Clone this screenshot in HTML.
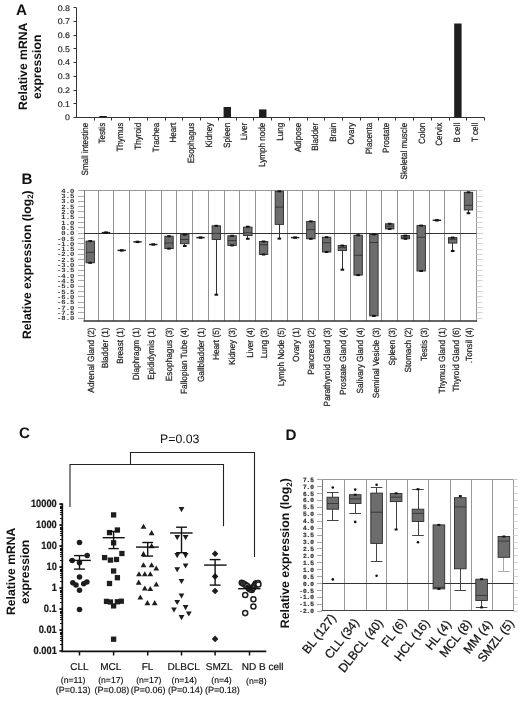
<!DOCTYPE html>
<html><head><meta charset="utf-8"><style>
html,body{margin:0;padding:0;background:#fff;}
svg{display:block;filter:grayscale(1);}
text{font-family:"Liberation Sans", sans-serif;text-rendering:geometricPrecision;}
</style></head><body>
<svg width="520" height="701" viewBox="0 0 520 701">
<rect width="520" height="701" fill="#fff"/>
<text transform="translate(16.00,14.70)" font-size="15.2" text-anchor="start" font-weight="bold" fill="#111">A</text>
<text transform="translate(26.90,66.40) rotate(-90)" font-size="12.2" text-anchor="middle" font-weight="bold" fill="#111">Relative mRNA</text>
<text transform="translate(41.10,66.80) rotate(-90)" font-size="12.2" text-anchor="middle" font-weight="bold" fill="#111">expression</text>
<line x1="76.50" y1="7.80" x2="76.50" y2="118.00" stroke="#333" stroke-width="1"/>
<line x1="73.50" y1="117.50" x2="76.50" y2="117.50" stroke="#333" stroke-width="1"/>
<text transform="translate(70.00,120.30) scale(1.08,1)" font-size="8.2" text-anchor="end" fill="#222" stroke="#222" stroke-width="0.15">0</text>
<line x1="73.50" y1="103.50" x2="76.50" y2="103.50" stroke="#333" stroke-width="1"/>
<text transform="translate(70.00,106.59) scale(1.08,1)" font-size="8.2" text-anchor="end" fill="#222" stroke="#222" stroke-width="0.15">0.1</text>
<line x1="73.50" y1="90.50" x2="76.50" y2="90.50" stroke="#333" stroke-width="1"/>
<text transform="translate(70.00,92.88) scale(1.08,1)" font-size="8.2" text-anchor="end" fill="#222" stroke="#222" stroke-width="0.15">0.2</text>
<line x1="73.50" y1="76.50" x2="76.50" y2="76.50" stroke="#333" stroke-width="1"/>
<text transform="translate(70.00,79.16) scale(1.08,1)" font-size="8.2" text-anchor="end" fill="#222" stroke="#222" stroke-width="0.15">0.3</text>
<line x1="73.50" y1="62.50" x2="76.50" y2="62.50" stroke="#333" stroke-width="1"/>
<text transform="translate(70.00,65.45) scale(1.08,1)" font-size="8.2" text-anchor="end" fill="#222" stroke="#222" stroke-width="0.15">0.4</text>
<line x1="73.50" y1="48.50" x2="76.50" y2="48.50" stroke="#333" stroke-width="1"/>
<text transform="translate(70.00,51.74) scale(1.08,1)" font-size="8.2" text-anchor="end" fill="#222" stroke="#222" stroke-width="0.15">0.5</text>
<line x1="73.50" y1="35.50" x2="76.50" y2="35.50" stroke="#333" stroke-width="1"/>
<text transform="translate(70.00,38.03) scale(1.08,1)" font-size="8.2" text-anchor="end" fill="#222" stroke="#222" stroke-width="0.15">0.6</text>
<line x1="73.50" y1="21.50" x2="76.50" y2="21.50" stroke="#333" stroke-width="1"/>
<text transform="translate(70.00,24.31) scale(1.08,1)" font-size="8.2" text-anchor="end" fill="#222" stroke="#222" stroke-width="0.15">0.7</text>
<line x1="73.50" y1="7.50" x2="76.50" y2="7.50" stroke="#333" stroke-width="1"/>
<text transform="translate(70.00,10.60) scale(1.08,1)" font-size="8.2" text-anchor="end" fill="#222" stroke="#222" stroke-width="0.15">0.8</text>
<line x1="76.50" y1="117.50" x2="484.50" y2="117.50" stroke="#333" stroke-width="1"/>
<line x1="94.50" y1="117.50" x2="94.50" y2="120.50" stroke="#333" stroke-width="1"/>
<line x1="111.50" y1="117.50" x2="111.50" y2="120.50" stroke="#333" stroke-width="1"/>
<line x1="129.50" y1="117.50" x2="129.50" y2="120.50" stroke="#333" stroke-width="1"/>
<line x1="147.50" y1="117.50" x2="147.50" y2="120.50" stroke="#333" stroke-width="1"/>
<line x1="165.50" y1="117.50" x2="165.50" y2="120.50" stroke="#333" stroke-width="1"/>
<line x1="182.50" y1="117.50" x2="182.50" y2="120.50" stroke="#333" stroke-width="1"/>
<line x1="200.50" y1="117.50" x2="200.50" y2="120.50" stroke="#333" stroke-width="1"/>
<line x1="218.50" y1="117.50" x2="218.50" y2="120.50" stroke="#333" stroke-width="1"/>
<line x1="236.50" y1="117.50" x2="236.50" y2="120.50" stroke="#333" stroke-width="1"/>
<line x1="253.50" y1="117.50" x2="253.50" y2="120.50" stroke="#333" stroke-width="1"/>
<line x1="271.50" y1="117.50" x2="271.50" y2="120.50" stroke="#333" stroke-width="1"/>
<line x1="289.50" y1="117.50" x2="289.50" y2="120.50" stroke="#333" stroke-width="1"/>
<line x1="307.50" y1="117.50" x2="307.50" y2="120.50" stroke="#333" stroke-width="1"/>
<line x1="324.50" y1="117.50" x2="324.50" y2="120.50" stroke="#333" stroke-width="1"/>
<line x1="342.50" y1="117.50" x2="342.50" y2="120.50" stroke="#333" stroke-width="1"/>
<line x1="360.50" y1="117.50" x2="360.50" y2="120.50" stroke="#333" stroke-width="1"/>
<line x1="378.50" y1="117.50" x2="378.50" y2="120.50" stroke="#333" stroke-width="1"/>
<line x1="395.50" y1="117.50" x2="395.50" y2="120.50" stroke="#333" stroke-width="1"/>
<line x1="413.50" y1="117.50" x2="413.50" y2="120.50" stroke="#333" stroke-width="1"/>
<line x1="431.50" y1="117.50" x2="431.50" y2="120.50" stroke="#333" stroke-width="1"/>
<line x1="449.50" y1="117.50" x2="449.50" y2="120.50" stroke="#333" stroke-width="1"/>
<line x1="466.50" y1="117.50" x2="466.50" y2="120.50" stroke="#333" stroke-width="1"/>
<line x1="484.50" y1="117.50" x2="484.50" y2="120.50" stroke="#333" stroke-width="1"/>
<text transform="translate(87.67,122.80) rotate(-90) scale(1,1.12)" font-size="8.1" text-anchor="end" fill="#222" stroke="#222" stroke-width="0.2">Small intestine</text>
<text transform="translate(105.41,122.80) rotate(-90) scale(1,1.12)" font-size="8.1" text-anchor="end" fill="#222" stroke="#222" stroke-width="0.2">Testis</text>
<rect x="99.41" y="116.00" width="7.40" height="1.50" fill="#1e1e1e"/>
<text transform="translate(123.15,122.80) rotate(-90) scale(1,1.12)" font-size="8.1" text-anchor="end" fill="#222" stroke="#222" stroke-width="0.2">Thymus</text>
<text transform="translate(140.89,122.80) rotate(-90) scale(1,1.12)" font-size="8.1" text-anchor="end" fill="#222" stroke="#222" stroke-width="0.2">Thyroid</text>
<text transform="translate(158.63,122.80) rotate(-90) scale(1,1.12)" font-size="8.1" text-anchor="end" fill="#222" stroke="#222" stroke-width="0.2">Trachea</text>
<text transform="translate(176.37,122.80) rotate(-90) scale(1,1.12)" font-size="8.1" text-anchor="end" fill="#222" stroke="#222" stroke-width="0.2">Heart</text>
<text transform="translate(194.10,122.80) rotate(-90) scale(1,1.12)" font-size="8.1" text-anchor="end" fill="#222" stroke="#222" stroke-width="0.2">Esophagus</text>
<text transform="translate(211.84,122.80) rotate(-90) scale(1,1.12)" font-size="8.1" text-anchor="end" fill="#222" stroke="#222" stroke-width="0.2">Kidney</text>
<text transform="translate(229.58,122.80) rotate(-90) scale(1,1.12)" font-size="8.1" text-anchor="end" fill="#222" stroke="#222" stroke-width="0.2">Spleen</text>
<rect x="223.58" y="107.00" width="7.40" height="10.50" fill="#1e1e1e"/>
<text transform="translate(247.32,122.80) rotate(-90) scale(1,1.12)" font-size="8.1" text-anchor="end" fill="#222" stroke="#222" stroke-width="0.2">Liver</text>
<text transform="translate(265.06,122.80) rotate(-90) scale(1,1.12)" font-size="8.1" text-anchor="end" fill="#222" stroke="#222" stroke-width="0.2">Lymph node</text>
<rect x="259.06" y="109.40" width="7.40" height="8.10" fill="#1e1e1e"/>
<text transform="translate(282.80,122.80) rotate(-90) scale(1,1.12)" font-size="8.1" text-anchor="end" fill="#222" stroke="#222" stroke-width="0.2">Lung</text>
<text transform="translate(300.54,122.80) rotate(-90) scale(1,1.12)" font-size="8.1" text-anchor="end" fill="#222" stroke="#222" stroke-width="0.2">Adipose</text>
<text transform="translate(318.28,122.80) rotate(-90) scale(1,1.12)" font-size="8.1" text-anchor="end" fill="#222" stroke="#222" stroke-width="0.2">Bladder</text>
<text transform="translate(336.02,122.80) rotate(-90) scale(1,1.12)" font-size="8.1" text-anchor="end" fill="#222" stroke="#222" stroke-width="0.2">Brain</text>
<text transform="translate(353.76,122.80) rotate(-90) scale(1,1.12)" font-size="8.1" text-anchor="end" fill="#222" stroke="#222" stroke-width="0.2">Ovary</text>
<text transform="translate(371.50,122.80) rotate(-90) scale(1,1.12)" font-size="8.1" text-anchor="end" fill="#222" stroke="#222" stroke-width="0.2">Placenta</text>
<text transform="translate(389.23,122.80) rotate(-90) scale(1,1.12)" font-size="8.1" text-anchor="end" fill="#222" stroke="#222" stroke-width="0.2">Prostate</text>
<text transform="translate(406.97,122.80) rotate(-90) scale(1,1.12)" font-size="8.1" text-anchor="end" fill="#222" stroke="#222" stroke-width="0.2">Skeletal muscle</text>
<text transform="translate(424.71,122.80) rotate(-90) scale(1,1.12)" font-size="8.1" text-anchor="end" fill="#222" stroke="#222" stroke-width="0.2">Colon</text>
<text transform="translate(442.45,122.80) rotate(-90) scale(1,1.12)" font-size="8.1" text-anchor="end" fill="#222" stroke="#222" stroke-width="0.2">Cervix</text>
<text transform="translate(460.19,122.80) rotate(-90) scale(1,1.12)" font-size="8.1" text-anchor="end" fill="#222" stroke="#222" stroke-width="0.2">B cell</text>
<rect x="454.19" y="23.50" width="7.40" height="94.00" fill="#1e1e1e"/>
<text transform="translate(477.93,122.80) rotate(-90) scale(1,1.12)" font-size="8.1" text-anchor="end" fill="#222" stroke="#222" stroke-width="0.2">T cell</text>
<text transform="translate(21.60,184.40)" font-size="15.2" text-anchor="start" font-weight="bold" fill="#111">B</text>
<text transform="translate(30.70,264.70) rotate(-90)" font-size="12.2" text-anchor="middle" font-weight="bold" fill="#111">Relative expression (log<tspan font-size="8" dy="2.5">2</tspan><tspan dy="-2.5">)</tspan></text>
<line x1="98.50" y1="190.00" x2="98.50" y2="321.00" stroke="#939393" stroke-width="1"/>
<line x1="113.50" y1="190.00" x2="113.50" y2="321.00" stroke="#939393" stroke-width="1"/>
<line x1="129.50" y1="190.00" x2="129.50" y2="321.00" stroke="#939393" stroke-width="1"/>
<line x1="145.50" y1="190.00" x2="145.50" y2="321.00" stroke="#939393" stroke-width="1"/>
<line x1="161.50" y1="190.00" x2="161.50" y2="321.00" stroke="#939393" stroke-width="1"/>
<line x1="176.50" y1="190.00" x2="176.50" y2="321.00" stroke="#939393" stroke-width="1"/>
<line x1="192.50" y1="190.00" x2="192.50" y2="321.00" stroke="#939393" stroke-width="1"/>
<line x1="208.50" y1="190.00" x2="208.50" y2="321.00" stroke="#939393" stroke-width="1"/>
<line x1="224.50" y1="190.00" x2="224.50" y2="321.00" stroke="#939393" stroke-width="1"/>
<line x1="239.50" y1="190.00" x2="239.50" y2="321.00" stroke="#939393" stroke-width="1"/>
<line x1="255.50" y1="190.00" x2="255.50" y2="321.00" stroke="#939393" stroke-width="1"/>
<line x1="271.50" y1="190.00" x2="271.50" y2="321.00" stroke="#939393" stroke-width="1"/>
<line x1="287.50" y1="190.00" x2="287.50" y2="321.00" stroke="#939393" stroke-width="1"/>
<line x1="302.50" y1="190.00" x2="302.50" y2="321.00" stroke="#939393" stroke-width="1"/>
<line x1="318.50" y1="190.00" x2="318.50" y2="321.00" stroke="#939393" stroke-width="1"/>
<line x1="334.50" y1="190.00" x2="334.50" y2="321.00" stroke="#939393" stroke-width="1"/>
<line x1="350.50" y1="190.00" x2="350.50" y2="321.00" stroke="#939393" stroke-width="1"/>
<line x1="366.50" y1="190.00" x2="366.50" y2="321.00" stroke="#939393" stroke-width="1"/>
<line x1="381.50" y1="190.00" x2="381.50" y2="321.00" stroke="#939393" stroke-width="1"/>
<line x1="397.50" y1="190.00" x2="397.50" y2="321.00" stroke="#939393" stroke-width="1"/>
<line x1="413.50" y1="190.00" x2="413.50" y2="321.00" stroke="#939393" stroke-width="1"/>
<line x1="429.50" y1="190.00" x2="429.50" y2="321.00" stroke="#939393" stroke-width="1"/>
<line x1="444.50" y1="190.00" x2="444.50" y2="321.00" stroke="#939393" stroke-width="1"/>
<line x1="460.50" y1="190.00" x2="460.50" y2="321.00" stroke="#939393" stroke-width="1"/>
<line x1="84.00" y1="190.50" x2="476.60" y2="190.50" stroke="#999" stroke-width="1"/>
<line x1="84.50" y1="190.00" x2="84.50" y2="321.00" stroke="#777" stroke-width="1"/>
<line x1="476.50" y1="190.00" x2="476.50" y2="321.00" stroke="#999" stroke-width="1"/>
<line x1="83.50" y1="321.00" x2="477.10" y2="321.00" stroke="#333" stroke-width="1.3"/>
<line x1="84.00" y1="233.50" x2="482.50" y2="233.50" stroke="#333" stroke-width="1"/>
<line x1="78.00" y1="190.50" x2="84.00" y2="190.50" stroke="#aaa" stroke-width="1"/>
<line x1="476.60" y1="190.50" x2="482.50" y2="190.50" stroke="#d4d4d4" stroke-width="1"/>
<text transform="translate(74.40,192.72) scale(1.15,1)" font-size="6.3" text-anchor="end" font-weight="bold" fill="#333" style="font-family:'Liberation Mono', monospace">4.0</text>
<line x1="78.00" y1="196.50" x2="84.00" y2="196.50" stroke="#aaa" stroke-width="1"/>
<line x1="476.60" y1="196.50" x2="482.50" y2="196.50" stroke="#d4d4d4" stroke-width="1"/>
<text transform="translate(74.40,198.03) scale(1.15,1)" font-size="6.3" text-anchor="end" font-weight="bold" fill="#333" style="font-family:'Liberation Mono', monospace">3.5</text>
<line x1="78.00" y1="201.50" x2="84.00" y2="201.50" stroke="#aaa" stroke-width="1"/>
<line x1="476.60" y1="201.50" x2="482.50" y2="201.50" stroke="#d4d4d4" stroke-width="1"/>
<text transform="translate(74.40,203.34) scale(1.15,1)" font-size="6.3" text-anchor="end" font-weight="bold" fill="#333" style="font-family:'Liberation Mono', monospace">3.0</text>
<line x1="78.00" y1="206.50" x2="84.00" y2="206.50" stroke="#aaa" stroke-width="1"/>
<line x1="476.60" y1="206.50" x2="482.50" y2="206.50" stroke="#d4d4d4" stroke-width="1"/>
<text transform="translate(74.40,208.65) scale(1.15,1)" font-size="6.3" text-anchor="end" font-weight="bold" fill="#333" style="font-family:'Liberation Mono', monospace">2.5</text>
<line x1="78.00" y1="211.50" x2="84.00" y2="211.50" stroke="#aaa" stroke-width="1"/>
<line x1="476.60" y1="211.50" x2="482.50" y2="211.50" stroke="#d4d4d4" stroke-width="1"/>
<text transform="translate(74.40,213.96) scale(1.15,1)" font-size="6.3" text-anchor="end" font-weight="bold" fill="#333" style="font-family:'Liberation Mono', monospace">2.0</text>
<line x1="78.00" y1="217.50" x2="84.00" y2="217.50" stroke="#aaa" stroke-width="1"/>
<line x1="476.60" y1="217.50" x2="482.50" y2="217.50" stroke="#d4d4d4" stroke-width="1"/>
<text transform="translate(74.40,219.27) scale(1.15,1)" font-size="6.3" text-anchor="end" font-weight="bold" fill="#333" style="font-family:'Liberation Mono', monospace">1.5</text>
<line x1="78.00" y1="222.50" x2="84.00" y2="222.50" stroke="#aaa" stroke-width="1"/>
<line x1="476.60" y1="222.50" x2="482.50" y2="222.50" stroke="#d4d4d4" stroke-width="1"/>
<text transform="translate(74.40,224.58) scale(1.15,1)" font-size="6.3" text-anchor="end" font-weight="bold" fill="#333" style="font-family:'Liberation Mono', monospace">1.0</text>
<line x1="78.00" y1="227.50" x2="84.00" y2="227.50" stroke="#aaa" stroke-width="1"/>
<line x1="476.60" y1="227.50" x2="482.50" y2="227.50" stroke="#d4d4d4" stroke-width="1"/>
<text transform="translate(74.40,229.89) scale(1.15,1)" font-size="6.3" text-anchor="end" font-weight="bold" fill="#333" style="font-family:'Liberation Mono', monospace">0.5</text>
<line x1="78.00" y1="233.50" x2="84.00" y2="233.50" stroke="#aaa" stroke-width="1"/>
<line x1="476.60" y1="233.50" x2="482.50" y2="233.50" stroke="#d4d4d4" stroke-width="1"/>
<text transform="translate(74.40,235.20) scale(1.15,1)" font-size="6.3" text-anchor="end" font-weight="bold" fill="#333" style="font-family:'Liberation Mono', monospace">0.0</text>
<line x1="78.00" y1="238.50" x2="84.00" y2="238.50" stroke="#aaa" stroke-width="1"/>
<line x1="476.60" y1="238.50" x2="482.50" y2="238.50" stroke="#d4d4d4" stroke-width="1"/>
<text transform="translate(74.40,240.51) scale(1.15,1)" font-size="6.3" text-anchor="end" font-weight="bold" fill="#333" style="font-family:'Liberation Mono', monospace">-0.5</text>
<line x1="78.00" y1="243.50" x2="84.00" y2="243.50" stroke="#aaa" stroke-width="1"/>
<line x1="476.60" y1="243.50" x2="482.50" y2="243.50" stroke="#d4d4d4" stroke-width="1"/>
<text transform="translate(74.40,245.82) scale(1.15,1)" font-size="6.3" text-anchor="end" font-weight="bold" fill="#333" style="font-family:'Liberation Mono', monospace">-1.0</text>
<line x1="78.00" y1="249.50" x2="84.00" y2="249.50" stroke="#aaa" stroke-width="1"/>
<line x1="476.60" y1="249.50" x2="482.50" y2="249.50" stroke="#d4d4d4" stroke-width="1"/>
<text transform="translate(74.40,251.13) scale(1.15,1)" font-size="6.3" text-anchor="end" font-weight="bold" fill="#333" style="font-family:'Liberation Mono', monospace">-1.5</text>
<line x1="78.00" y1="254.50" x2="84.00" y2="254.50" stroke="#aaa" stroke-width="1"/>
<line x1="476.60" y1="254.50" x2="482.50" y2="254.50" stroke="#d4d4d4" stroke-width="1"/>
<text transform="translate(74.40,256.44) scale(1.15,1)" font-size="6.3" text-anchor="end" font-weight="bold" fill="#333" style="font-family:'Liberation Mono', monospace">-2.0</text>
<line x1="78.00" y1="259.50" x2="84.00" y2="259.50" stroke="#aaa" stroke-width="1"/>
<line x1="476.60" y1="259.50" x2="482.50" y2="259.50" stroke="#d4d4d4" stroke-width="1"/>
<text transform="translate(74.40,261.75) scale(1.15,1)" font-size="6.3" text-anchor="end" font-weight="bold" fill="#333" style="font-family:'Liberation Mono', monospace">-2.5</text>
<line x1="78.00" y1="265.50" x2="84.00" y2="265.50" stroke="#aaa" stroke-width="1"/>
<line x1="476.60" y1="265.50" x2="482.50" y2="265.50" stroke="#d4d4d4" stroke-width="1"/>
<text transform="translate(74.40,267.06) scale(1.15,1)" font-size="6.3" text-anchor="end" font-weight="bold" fill="#333" style="font-family:'Liberation Mono', monospace">-3.0</text>
<line x1="78.00" y1="270.50" x2="84.00" y2="270.50" stroke="#aaa" stroke-width="1"/>
<line x1="476.60" y1="270.50" x2="482.50" y2="270.50" stroke="#d4d4d4" stroke-width="1"/>
<text transform="translate(74.40,272.37) scale(1.15,1)" font-size="6.3" text-anchor="end" font-weight="bold" fill="#333" style="font-family:'Liberation Mono', monospace">-3.5</text>
<line x1="78.00" y1="275.50" x2="84.00" y2="275.50" stroke="#aaa" stroke-width="1"/>
<line x1="476.60" y1="275.50" x2="482.50" y2="275.50" stroke="#d4d4d4" stroke-width="1"/>
<text transform="translate(74.40,277.68) scale(1.15,1)" font-size="6.3" text-anchor="end" font-weight="bold" fill="#333" style="font-family:'Liberation Mono', monospace">-4.0</text>
<line x1="78.00" y1="280.50" x2="84.00" y2="280.50" stroke="#aaa" stroke-width="1"/>
<line x1="476.60" y1="280.50" x2="482.50" y2="280.50" stroke="#d4d4d4" stroke-width="1"/>
<text transform="translate(74.40,282.99) scale(1.15,1)" font-size="6.3" text-anchor="end" font-weight="bold" fill="#333" style="font-family:'Liberation Mono', monospace">-4.5</text>
<line x1="78.00" y1="286.50" x2="84.00" y2="286.50" stroke="#aaa" stroke-width="1"/>
<line x1="476.60" y1="286.50" x2="482.50" y2="286.50" stroke="#d4d4d4" stroke-width="1"/>
<text transform="translate(74.40,288.30) scale(1.15,1)" font-size="6.3" text-anchor="end" font-weight="bold" fill="#333" style="font-family:'Liberation Mono', monospace">-5.0</text>
<line x1="78.00" y1="291.50" x2="84.00" y2="291.50" stroke="#aaa" stroke-width="1"/>
<line x1="476.60" y1="291.50" x2="482.50" y2="291.50" stroke="#d4d4d4" stroke-width="1"/>
<text transform="translate(74.40,293.61) scale(1.15,1)" font-size="6.3" text-anchor="end" font-weight="bold" fill="#333" style="font-family:'Liberation Mono', monospace">-5.5</text>
<line x1="78.00" y1="296.50" x2="84.00" y2="296.50" stroke="#aaa" stroke-width="1"/>
<line x1="476.60" y1="296.50" x2="482.50" y2="296.50" stroke="#d4d4d4" stroke-width="1"/>
<text transform="translate(74.40,298.92) scale(1.15,1)" font-size="6.3" text-anchor="end" font-weight="bold" fill="#333" style="font-family:'Liberation Mono', monospace">-6.0</text>
<line x1="78.00" y1="302.50" x2="84.00" y2="302.50" stroke="#aaa" stroke-width="1"/>
<line x1="476.60" y1="302.50" x2="482.50" y2="302.50" stroke="#d4d4d4" stroke-width="1"/>
<text transform="translate(74.40,304.23) scale(1.15,1)" font-size="6.3" text-anchor="end" font-weight="bold" fill="#333" style="font-family:'Liberation Mono', monospace">-6.5</text>
<line x1="78.00" y1="307.50" x2="84.00" y2="307.50" stroke="#aaa" stroke-width="1"/>
<line x1="476.60" y1="307.50" x2="482.50" y2="307.50" stroke="#d4d4d4" stroke-width="1"/>
<text transform="translate(74.40,309.54) scale(1.15,1)" font-size="6.3" text-anchor="end" font-weight="bold" fill="#333" style="font-family:'Liberation Mono', monospace">-7.0</text>
<line x1="78.00" y1="312.50" x2="84.00" y2="312.50" stroke="#aaa" stroke-width="1"/>
<line x1="476.60" y1="312.50" x2="482.50" y2="312.50" stroke="#d4d4d4" stroke-width="1"/>
<text transform="translate(74.40,314.85) scale(1.15,1)" font-size="6.3" text-anchor="end" font-weight="bold" fill="#333" style="font-family:'Liberation Mono', monospace">-7.5</text>
<line x1="78.00" y1="318.50" x2="84.00" y2="318.50" stroke="#aaa" stroke-width="1"/>
<line x1="476.60" y1="318.50" x2="482.50" y2="318.50" stroke="#d4d4d4" stroke-width="1"/>
<text transform="translate(74.40,320.16) scale(1.15,1)" font-size="6.3" text-anchor="end" font-weight="bold" fill="#333" style="font-family:'Liberation Mono', monospace">-8.0</text>
<rect x="86.02" y="241.10" width="8.40" height="21.70" fill="#6d6d6d" stroke="#2a2a2a" stroke-width="0.9"/>
<line x1="86.02" y1="252.30" x2="94.42" y2="252.30" stroke="#333" stroke-width="0.9"/>
<rect x="88.42" y="240.10" width="3.60" height="2.00" fill="#111"/>
<rect x="88.42" y="261.80" width="3.60" height="2.00" fill="#111"/>
<rect x="101.78" y="231.90" width="8.40" height="1.40" fill="#222"/>
<rect x="104.18" y="231.40" width="3.60" height="2.40" fill="#111"/>
<rect x="117.54" y="249.70" width="8.40" height="1.40" fill="#222"/>
<rect x="119.94" y="249.20" width="3.60" height="2.40" fill="#111"/>
<rect x="133.30" y="241.20" width="8.40" height="1.40" fill="#222"/>
<rect x="135.70" y="240.70" width="3.60" height="2.40" fill="#111"/>
<rect x="149.06" y="243.80" width="8.40" height="1.40" fill="#222"/>
<rect x="151.46" y="243.30" width="3.60" height="2.40" fill="#111"/>
<rect x="164.82" y="236.20" width="8.40" height="12.40" fill="#6d6d6d" stroke="#2a2a2a" stroke-width="0.9"/>
<line x1="164.82" y1="243.00" x2="173.22" y2="243.00" stroke="#333" stroke-width="0.9"/>
<rect x="167.22" y="235.20" width="3.60" height="2.00" fill="#111"/>
<rect x="167.22" y="247.60" width="3.60" height="2.00" fill="#111"/>
<line x1="184.50" y1="243.70" x2="184.50" y2="246.00" stroke="#333" stroke-width="1"/>
<rect x="180.58" y="234.60" width="8.40" height="9.10" fill="#6d6d6d" stroke="#2a2a2a" stroke-width="0.9"/>
<line x1="180.58" y1="239.50" x2="188.98" y2="239.50" stroke="#333" stroke-width="0.9"/>
<rect x="182.98" y="233.60" width="3.60" height="2.00" fill="#111"/>
<rect x="182.98" y="245.00" width="3.60" height="2.00" fill="#111"/>
<rect x="196.34" y="236.90" width="8.40" height="1.40" fill="#222"/>
<rect x="198.74" y="236.40" width="3.60" height="2.40" fill="#111"/>
<line x1="216.50" y1="239.50" x2="216.50" y2="294.70" stroke="#333" stroke-width="1"/>
<rect x="212.10" y="225.80" width="8.40" height="13.70" fill="#6d6d6d" stroke="#2a2a2a" stroke-width="0.9"/>
<line x1="212.10" y1="233.40" x2="220.50" y2="233.40" stroke="#333" stroke-width="0.9"/>
<rect x="214.50" y="224.80" width="3.60" height="2.00" fill="#111"/>
<rect x="214.50" y="293.70" width="3.60" height="2.00" fill="#111"/>
<rect x="227.86" y="235.80" width="8.40" height="9.60" fill="#6d6d6d" stroke="#2a2a2a" stroke-width="0.9"/>
<line x1="227.86" y1="240.50" x2="236.26" y2="240.50" stroke="#333" stroke-width="0.9"/>
<rect x="230.26" y="234.80" width="3.60" height="2.00" fill="#111"/>
<rect x="230.26" y="244.40" width="3.60" height="2.00" fill="#111"/>
<line x1="247.50" y1="226.70" x2="247.50" y2="227.10" stroke="#333" stroke-width="1"/>
<line x1="247.50" y1="235.60" x2="247.50" y2="238.80" stroke="#333" stroke-width="1"/>
<rect x="243.62" y="227.10" width="8.40" height="8.50" fill="#6d6d6d" stroke="#2a2a2a" stroke-width="0.9"/>
<line x1="243.62" y1="232.80" x2="252.02" y2="232.80" stroke="#333" stroke-width="0.9"/>
<rect x="246.02" y="225.70" width="3.60" height="2.00" fill="#111"/>
<rect x="246.02" y="237.80" width="3.60" height="2.00" fill="#111"/>
<rect x="259.38" y="241.50" width="8.40" height="13.00" fill="#6d6d6d" stroke="#2a2a2a" stroke-width="0.9"/>
<line x1="259.38" y1="244.70" x2="267.78" y2="244.70" stroke="#333" stroke-width="0.9"/>
<rect x="261.78" y="240.50" width="3.60" height="2.00" fill="#111"/>
<rect x="261.78" y="253.50" width="3.60" height="2.00" fill="#111"/>
<line x1="279.50" y1="224.40" x2="279.50" y2="238.60" stroke="#333" stroke-width="1"/>
<rect x="275.14" y="191.30" width="8.40" height="33.10" fill="#6d6d6d" stroke="#2a2a2a" stroke-width="0.9"/>
<line x1="275.14" y1="207.10" x2="283.54" y2="207.10" stroke="#333" stroke-width="0.9"/>
<rect x="277.54" y="190.30" width="3.60" height="2.00" fill="#111"/>
<rect x="277.54" y="237.60" width="3.60" height="2.00" fill="#111"/>
<rect x="290.90" y="236.90" width="8.40" height="1.40" fill="#222"/>
<rect x="293.30" y="236.40" width="3.60" height="2.40" fill="#111"/>
<rect x="306.66" y="221.40" width="8.40" height="17.40" fill="#6d6d6d" stroke="#2a2a2a" stroke-width="0.9"/>
<line x1="306.66" y1="229.70" x2="315.06" y2="229.70" stroke="#333" stroke-width="0.9"/>
<rect x="309.06" y="220.40" width="3.60" height="2.00" fill="#111"/>
<rect x="309.06" y="237.80" width="3.60" height="2.00" fill="#111"/>
<rect x="322.42" y="237.20" width="8.40" height="14.80" fill="#6d6d6d" stroke="#2a2a2a" stroke-width="0.9"/>
<line x1="322.42" y1="242.70" x2="330.82" y2="242.70" stroke="#333" stroke-width="0.9"/>
<rect x="324.82" y="236.20" width="3.60" height="2.00" fill="#111"/>
<rect x="324.82" y="251.00" width="3.60" height="2.00" fill="#111"/>
<line x1="342.50" y1="250.60" x2="342.50" y2="269.70" stroke="#333" stroke-width="1"/>
<rect x="338.18" y="245.60" width="8.40" height="5.00" fill="#6d6d6d" stroke="#2a2a2a" stroke-width="0.9"/>
<line x1="338.18" y1="247.60" x2="346.58" y2="247.60" stroke="#333" stroke-width="0.9"/>
<rect x="340.58" y="244.60" width="3.60" height="2.00" fill="#111"/>
<rect x="340.58" y="268.70" width="3.60" height="2.00" fill="#111"/>
<rect x="353.94" y="235.20" width="8.40" height="39.90" fill="#6d6d6d" stroke="#2a2a2a" stroke-width="0.9"/>
<line x1="353.94" y1="255.30" x2="362.34" y2="255.30" stroke="#333" stroke-width="0.9"/>
<rect x="356.34" y="234.20" width="3.60" height="2.00" fill="#111"/>
<rect x="356.34" y="274.10" width="3.60" height="2.00" fill="#111"/>
<rect x="369.70" y="234.40" width="8.40" height="81.50" fill="#6d6d6d" stroke="#2a2a2a" stroke-width="0.9"/>
<line x1="369.70" y1="242.50" x2="378.10" y2="242.50" stroke="#333" stroke-width="0.9"/>
<rect x="372.10" y="233.40" width="3.60" height="2.00" fill="#111"/>
<rect x="372.10" y="314.90" width="3.60" height="2.00" fill="#111"/>
<rect x="385.46" y="223.80" width="8.40" height="5.10" fill="#6d6d6d" stroke="#2a2a2a" stroke-width="0.9"/>
<line x1="385.46" y1="226.20" x2="393.86" y2="226.20" stroke="#333" stroke-width="0.9"/>
<rect x="387.86" y="222.80" width="3.60" height="2.00" fill="#111"/>
<rect x="387.86" y="227.90" width="3.60" height="2.00" fill="#111"/>
<rect x="401.22" y="235.60" width="8.40" height="3.20" fill="#6d6d6d" stroke="#2a2a2a" stroke-width="0.9"/>
<line x1="401.22" y1="237.20" x2="409.62" y2="237.20" stroke="#333" stroke-width="0.9"/>
<rect x="403.62" y="234.60" width="3.60" height="2.00" fill="#111"/>
<rect x="403.62" y="237.80" width="3.60" height="2.00" fill="#111"/>
<rect x="416.98" y="225.60" width="8.40" height="45.40" fill="#6d6d6d" stroke="#2a2a2a" stroke-width="0.9"/>
<line x1="416.98" y1="237.30" x2="425.38" y2="237.30" stroke="#333" stroke-width="0.9"/>
<rect x="419.38" y="224.60" width="3.60" height="2.00" fill="#111"/>
<rect x="419.38" y="270.00" width="3.60" height="2.00" fill="#111"/>
<rect x="432.74" y="219.60" width="8.40" height="1.40" fill="#222"/>
<rect x="435.14" y="219.10" width="3.60" height="2.40" fill="#111"/>
<line x1="452.50" y1="243.10" x2="452.50" y2="251.00" stroke="#333" stroke-width="1"/>
<rect x="448.50" y="237.60" width="8.40" height="5.50" fill="#6d6d6d" stroke="#2a2a2a" stroke-width="0.9"/>
<line x1="448.50" y1="239.30" x2="456.90" y2="239.30" stroke="#333" stroke-width="0.9"/>
<rect x="450.90" y="236.60" width="3.60" height="2.00" fill="#111"/>
<rect x="450.90" y="250.00" width="3.60" height="2.00" fill="#111"/>
<line x1="468.50" y1="210.00" x2="468.50" y2="213.20" stroke="#333" stroke-width="1"/>
<rect x="464.26" y="192.30" width="8.40" height="17.70" fill="#6d6d6d" stroke="#2a2a2a" stroke-width="0.9"/>
<line x1="464.26" y1="205.30" x2="472.66" y2="205.30" stroke="#333" stroke-width="0.9"/>
<rect x="466.66" y="191.30" width="3.60" height="2.00" fill="#111"/>
<rect x="466.66" y="212.20" width="3.60" height="2.00" fill="#111"/>
<text transform="translate(94.30,327.50) rotate(-90) scale(1,1.08)" font-size="8.25" text-anchor="end" fill="#222" stroke="#222" stroke-width="0.2">Adrenal Gland (2)</text>
<text transform="translate(107.70,327.50) rotate(-90) scale(1,1.08)" font-size="8.25" text-anchor="end" fill="#222" stroke="#222" stroke-width="0.2">Bladder (1)</text>
<text transform="translate(122.70,327.50) rotate(-90) scale(1,1.08)" font-size="8.25" text-anchor="end" fill="#222" stroke="#222" stroke-width="0.2">Breast (1)</text>
<text transform="translate(139.10,327.50) rotate(-90) scale(1,1.08)" font-size="8.25" text-anchor="end" fill="#222" stroke="#222" stroke-width="0.2">Diaphragm (1)</text>
<text transform="translate(153.75,327.50) rotate(-90) scale(1,1.08)" font-size="8.25" text-anchor="end" fill="#222" stroke="#222" stroke-width="0.2">Epididymis (1)</text>
<text transform="translate(172.15,327.50) rotate(-90) scale(1,1.08)" font-size="8.25" text-anchor="end" fill="#222" stroke="#222" stroke-width="0.2">Esophagus (3)</text>
<text transform="translate(187.40,327.50) rotate(-90) scale(1,1.08)" font-size="8.25" text-anchor="end" fill="#222" stroke="#222" stroke-width="0.2">Fallopian Tube (4)</text>
<text transform="translate(204.10,327.50) rotate(-90) scale(1,1.08)" font-size="8.25" text-anchor="end" fill="#222" stroke="#222" stroke-width="0.2">Gallbladder (1)</text>
<text transform="translate(219.20,327.50) rotate(-90) scale(1,1.08)" font-size="8.25" text-anchor="end" fill="#222" stroke="#222" stroke-width="0.2">Heart (5)</text>
<text transform="translate(235.45,327.50) rotate(-90) scale(1,1.08)" font-size="8.25" text-anchor="end" fill="#222" stroke="#222" stroke-width="0.2">Kidney (3)</text>
<text transform="translate(253.00,327.50) rotate(-90) scale(1,1.08)" font-size="8.25" text-anchor="end" fill="#222" stroke="#222" stroke-width="0.2">Liver (4)</text>
<text transform="translate(266.85,327.50) rotate(-90) scale(1,1.08)" font-size="8.25" text-anchor="end" fill="#222" stroke="#222" stroke-width="0.2">Lung (3)</text>
<text transform="translate(283.65,327.50) rotate(-90) scale(1,1.08)" font-size="8.25" text-anchor="end" fill="#222" stroke="#222" stroke-width="0.2">Lymph Node (5)</text>
<text transform="translate(298.70,327.50) rotate(-90) scale(1,1.08)" font-size="8.25" text-anchor="end" fill="#222" stroke="#222" stroke-width="0.2">Ovary (1)</text>
<text transform="translate(313.80,327.50) rotate(-90) scale(1,1.08)" font-size="8.25" text-anchor="end" fill="#222" stroke="#222" stroke-width="0.2">Pancreas (2)</text>
<text transform="translate(329.95,327.50) rotate(-90) scale(1,1.08)" font-size="8.25" text-anchor="end" fill="#222" stroke="#222" stroke-width="0.2">Parathyroid Gland (3)</text>
<text transform="translate(346.45,327.50) rotate(-90) scale(1,1.08)" font-size="8.25" text-anchor="end" fill="#222" stroke="#222" stroke-width="0.2">Prostate Gland (4)</text>
<text transform="translate(363.20,327.50) rotate(-90) scale(1,1.08)" font-size="8.25" text-anchor="end" fill="#222" stroke="#222" stroke-width="0.2">Salivary Gland (4)</text>
<text transform="translate(379.00,327.50) rotate(-90) scale(1,1.08)" font-size="8.25" text-anchor="end" fill="#222" stroke="#222" stroke-width="0.2">Seminal Vesicle (3)</text>
<text transform="translate(395.30,327.50) rotate(-90) scale(1,1.08)" font-size="8.25" text-anchor="end" fill="#222" stroke="#222" stroke-width="0.2">Spleen (3)</text>
<text transform="translate(411.00,327.50) rotate(-90) scale(1,1.08)" font-size="8.25" text-anchor="end" fill="#222" stroke="#222" stroke-width="0.2">Stomach (2)</text>
<text transform="translate(427.45,327.50) rotate(-90) scale(1,1.08)" font-size="8.25" text-anchor="end" fill="#222" stroke="#222" stroke-width="0.2">Testis (3)</text>
<text transform="translate(444.55,327.50) rotate(-90) scale(1,1.08)" font-size="8.25" text-anchor="end" fill="#222" stroke="#222" stroke-width="0.2">Thymus Gland (1)</text>
<text transform="translate(458.75,327.50) rotate(-90) scale(1,1.08)" font-size="8.25" text-anchor="end" fill="#222" stroke="#222" stroke-width="0.2">Thyroid Gland (6)</text>
<text transform="translate(472.45,327.50) rotate(-90) scale(1,1.08)" font-size="8.25" text-anchor="end" fill="#222" stroke="#222" stroke-width="0.2">.Tonsil (4)</text>
<text transform="translate(18.90,437.60)" font-size="15.2" text-anchor="start" font-weight="bold" fill="#111">C</text>
<text transform="translate(14.90,571.30) rotate(-90)" font-size="12.2" text-anchor="middle" font-weight="bold" fill="#111">Relative mRNA</text>
<text transform="translate(29.10,571.90) rotate(-90)" font-size="12.2" text-anchor="middle" font-weight="bold" fill="#111">expression</text>
<text transform="translate(179.70,443.40)" font-size="12.3" text-anchor="middle" fill="#111">P=0.03</text>
<polyline points="70,507 70,464.5 223.5,464.5 223.5,526.2" fill="none" stroke="#222" stroke-width="1.1"/>
<polyline points="130.5,464.5 130.5,452.5 254.5,452.5 254.5,557" fill="none" stroke="#222" stroke-width="1.1"/>
<line x1="62.30" y1="503.30" x2="62.30" y2="652.10" stroke="#111" stroke-width="1.7"/>
<line x1="61.45" y1="651.35" x2="266.30" y2="651.35" stroke="#111" stroke-width="1.6"/>
<line x1="59.30" y1="504.00" x2="62.30" y2="504.00" stroke="#111" stroke-width="1.6"/>
<text transform="translate(56.80,507.30) scale(1,1.15)" font-size="9.3" text-anchor="end" font-weight="bold" fill="#1a1a1a" stroke="#1a1a1a" stroke-width="0.2">10000</text>
<line x1="59.30" y1="525.00" x2="62.30" y2="525.00" stroke="#111" stroke-width="1.6"/>
<text transform="translate(56.80,528.30) scale(1,1.15)" font-size="9.3" text-anchor="end" font-weight="bold" fill="#1a1a1a" stroke="#1a1a1a" stroke-width="0.2">1000</text>
<line x1="60.00" y1="518.50" x2="62.30" y2="518.50" stroke="#111" stroke-width="1.0"/>
<line x1="60.00" y1="514.50" x2="62.30" y2="514.50" stroke="#111" stroke-width="1.0"/>
<line x1="60.00" y1="512.50" x2="62.30" y2="512.50" stroke="#111" stroke-width="1.0"/>
<line x1="60.00" y1="510.50" x2="62.30" y2="510.50" stroke="#111" stroke-width="1.0"/>
<line x1="60.00" y1="508.50" x2="62.30" y2="508.50" stroke="#111" stroke-width="1.0"/>
<line x1="60.00" y1="507.50" x2="62.30" y2="507.50" stroke="#111" stroke-width="1.0"/>
<line x1="60.00" y1="506.50" x2="62.30" y2="506.50" stroke="#111" stroke-width="1.0"/>
<line x1="60.00" y1="504.50" x2="62.30" y2="504.50" stroke="#111" stroke-width="1.0"/>
<line x1="59.30" y1="546.00" x2="62.30" y2="546.00" stroke="#111" stroke-width="1.6"/>
<text transform="translate(56.80,549.30) scale(1,1.15)" font-size="9.3" text-anchor="end" font-weight="bold" fill="#1a1a1a" stroke="#1a1a1a" stroke-width="0.2">100</text>
<line x1="60.00" y1="539.50" x2="62.30" y2="539.50" stroke="#111" stroke-width="1.0"/>
<line x1="60.00" y1="535.50" x2="62.30" y2="535.50" stroke="#111" stroke-width="1.0"/>
<line x1="60.00" y1="533.50" x2="62.30" y2="533.50" stroke="#111" stroke-width="1.0"/>
<line x1="60.00" y1="531.50" x2="62.30" y2="531.50" stroke="#111" stroke-width="1.0"/>
<line x1="60.00" y1="529.50" x2="62.30" y2="529.50" stroke="#111" stroke-width="1.0"/>
<line x1="60.00" y1="528.50" x2="62.30" y2="528.50" stroke="#111" stroke-width="1.0"/>
<line x1="60.00" y1="527.50" x2="62.30" y2="527.50" stroke="#111" stroke-width="1.0"/>
<line x1="60.00" y1="525.50" x2="62.30" y2="525.50" stroke="#111" stroke-width="1.0"/>
<line x1="59.30" y1="567.00" x2="62.30" y2="567.00" stroke="#111" stroke-width="1.6"/>
<text transform="translate(56.80,570.30) scale(1,1.15)" font-size="9.3" text-anchor="end" font-weight="bold" fill="#1a1a1a" stroke="#1a1a1a" stroke-width="0.2">10</text>
<line x1="60.00" y1="560.50" x2="62.30" y2="560.50" stroke="#111" stroke-width="1.0"/>
<line x1="60.00" y1="556.50" x2="62.30" y2="556.50" stroke="#111" stroke-width="1.0"/>
<line x1="60.00" y1="554.50" x2="62.30" y2="554.50" stroke="#111" stroke-width="1.0"/>
<line x1="60.00" y1="552.50" x2="62.30" y2="552.50" stroke="#111" stroke-width="1.0"/>
<line x1="60.00" y1="550.50" x2="62.30" y2="550.50" stroke="#111" stroke-width="1.0"/>
<line x1="60.00" y1="549.50" x2="62.30" y2="549.50" stroke="#111" stroke-width="1.0"/>
<line x1="60.00" y1="548.50" x2="62.30" y2="548.50" stroke="#111" stroke-width="1.0"/>
<line x1="60.00" y1="546.50" x2="62.30" y2="546.50" stroke="#111" stroke-width="1.0"/>
<line x1="59.30" y1="588.00" x2="62.30" y2="588.00" stroke="#111" stroke-width="1.6"/>
<text transform="translate(56.80,591.30) scale(1,1.15)" font-size="9.3" text-anchor="end" font-weight="bold" fill="#1a1a1a" stroke="#1a1a1a" stroke-width="0.2">1</text>
<line x1="60.00" y1="581.50" x2="62.30" y2="581.50" stroke="#111" stroke-width="1.0"/>
<line x1="60.00" y1="577.50" x2="62.30" y2="577.50" stroke="#111" stroke-width="1.0"/>
<line x1="60.00" y1="575.50" x2="62.30" y2="575.50" stroke="#111" stroke-width="1.0"/>
<line x1="60.00" y1="573.50" x2="62.30" y2="573.50" stroke="#111" stroke-width="1.0"/>
<line x1="60.00" y1="571.50" x2="62.30" y2="571.50" stroke="#111" stroke-width="1.0"/>
<line x1="60.00" y1="570.50" x2="62.30" y2="570.50" stroke="#111" stroke-width="1.0"/>
<line x1="60.00" y1="569.50" x2="62.30" y2="569.50" stroke="#111" stroke-width="1.0"/>
<line x1="60.00" y1="567.50" x2="62.30" y2="567.50" stroke="#111" stroke-width="1.0"/>
<line x1="59.30" y1="609.00" x2="62.30" y2="609.00" stroke="#111" stroke-width="1.6"/>
<text transform="translate(56.80,612.30) scale(1,1.15)" font-size="9.3" text-anchor="end" font-weight="bold" fill="#1a1a1a" stroke="#1a1a1a" stroke-width="0.2">0.1</text>
<line x1="60.00" y1="602.50" x2="62.30" y2="602.50" stroke="#111" stroke-width="1.0"/>
<line x1="60.00" y1="598.50" x2="62.30" y2="598.50" stroke="#111" stroke-width="1.0"/>
<line x1="60.00" y1="596.50" x2="62.30" y2="596.50" stroke="#111" stroke-width="1.0"/>
<line x1="60.00" y1="594.50" x2="62.30" y2="594.50" stroke="#111" stroke-width="1.0"/>
<line x1="60.00" y1="592.50" x2="62.30" y2="592.50" stroke="#111" stroke-width="1.0"/>
<line x1="60.00" y1="591.50" x2="62.30" y2="591.50" stroke="#111" stroke-width="1.0"/>
<line x1="60.00" y1="590.50" x2="62.30" y2="590.50" stroke="#111" stroke-width="1.0"/>
<line x1="60.00" y1="588.50" x2="62.30" y2="588.50" stroke="#111" stroke-width="1.0"/>
<line x1="59.30" y1="630.00" x2="62.30" y2="630.00" stroke="#111" stroke-width="1.6"/>
<text transform="translate(56.80,633.30) scale(1,1.15)" font-size="9.3" text-anchor="end" font-weight="bold" fill="#1a1a1a" stroke="#1a1a1a" stroke-width="0.2">0.01</text>
<line x1="60.00" y1="623.50" x2="62.30" y2="623.50" stroke="#111" stroke-width="1.0"/>
<line x1="60.00" y1="619.50" x2="62.30" y2="619.50" stroke="#111" stroke-width="1.0"/>
<line x1="60.00" y1="617.50" x2="62.30" y2="617.50" stroke="#111" stroke-width="1.0"/>
<line x1="60.00" y1="615.50" x2="62.30" y2="615.50" stroke="#111" stroke-width="1.0"/>
<line x1="60.00" y1="613.50" x2="62.30" y2="613.50" stroke="#111" stroke-width="1.0"/>
<line x1="60.00" y1="612.50" x2="62.30" y2="612.50" stroke="#111" stroke-width="1.0"/>
<line x1="60.00" y1="611.50" x2="62.30" y2="611.50" stroke="#111" stroke-width="1.0"/>
<line x1="60.00" y1="609.50" x2="62.30" y2="609.50" stroke="#111" stroke-width="1.0"/>
<line x1="59.30" y1="651.00" x2="62.30" y2="651.00" stroke="#111" stroke-width="1.6"/>
<text transform="translate(56.80,654.30) scale(1,1.15)" font-size="9.3" text-anchor="end" font-weight="bold" fill="#1a1a1a" stroke="#1a1a1a" stroke-width="0.2">0.001</text>
<line x1="60.00" y1="644.50" x2="62.30" y2="644.50" stroke="#111" stroke-width="1.0"/>
<line x1="60.00" y1="640.50" x2="62.30" y2="640.50" stroke="#111" stroke-width="1.0"/>
<line x1="60.00" y1="638.50" x2="62.30" y2="638.50" stroke="#111" stroke-width="1.0"/>
<line x1="60.00" y1="636.50" x2="62.30" y2="636.50" stroke="#111" stroke-width="1.0"/>
<line x1="60.00" y1="634.50" x2="62.30" y2="634.50" stroke="#111" stroke-width="1.0"/>
<line x1="60.00" y1="633.50" x2="62.30" y2="633.50" stroke="#111" stroke-width="1.0"/>
<line x1="60.00" y1="632.50" x2="62.30" y2="632.50" stroke="#111" stroke-width="1.0"/>
<line x1="60.00" y1="630.50" x2="62.30" y2="630.50" stroke="#111" stroke-width="1.0"/>
<line x1="79.50" y1="651.30" x2="79.50" y2="655.50" stroke="#111" stroke-width="1.5"/>
<line x1="113.60" y1="651.30" x2="113.60" y2="655.50" stroke="#111" stroke-width="1.5"/>
<line x1="147.70" y1="651.30" x2="147.70" y2="655.50" stroke="#111" stroke-width="1.5"/>
<line x1="181.50" y1="651.30" x2="181.50" y2="655.50" stroke="#111" stroke-width="1.5"/>
<line x1="215.10" y1="651.30" x2="215.10" y2="655.50" stroke="#111" stroke-width="1.5"/>
<line x1="249.50" y1="651.30" x2="249.50" y2="655.50" stroke="#111" stroke-width="1.5"/>
<text transform="translate(79.50,670.00)" font-size="10.0" text-anchor="middle" fill="#111" stroke="#111" stroke-width="0.2">CLL</text>
<text transform="translate(73.10,683.30)" font-size="8.7" text-anchor="middle" fill="#111" stroke="#111" stroke-width="0.15">(n=11)</text>
<text transform="translate(73.20,692.50)" font-size="9.0" text-anchor="middle" fill="#111" stroke="#111" stroke-width="0.15">(P=0.13)</text>
<text transform="translate(110.80,670.00)" font-size="10.0" text-anchor="middle" fill="#111" stroke="#111" stroke-width="0.2">MCL</text>
<text transform="translate(110.80,683.30)" font-size="8.7" text-anchor="middle" fill="#111" stroke="#111" stroke-width="0.15">(n=17)</text>
<text transform="translate(111.90,692.50)" font-size="9.0" text-anchor="middle" fill="#111" stroke="#111" stroke-width="0.15">(P=0.08)</text>
<text transform="translate(147.50,670.00)" font-size="10.0" text-anchor="middle" fill="#111" stroke="#111" stroke-width="0.2">FL</text>
<text transform="translate(148.80,683.30)" font-size="8.7" text-anchor="middle" fill="#111" stroke="#111" stroke-width="0.15">(n=17)</text>
<text transform="translate(148.20,692.50)" font-size="9.0" text-anchor="middle" fill="#111" stroke="#111" stroke-width="0.15">(P=0.06)</text>
<text transform="translate(183.70,670.00)" font-size="10.0" text-anchor="middle" fill="#111" stroke="#111" stroke-width="0.2">DLBCL</text>
<text transform="translate(184.20,683.30)" font-size="8.7" text-anchor="middle" fill="#111" stroke="#111" stroke-width="0.15">(n=14)</text>
<text transform="translate(185.30,692.50)" font-size="9.0" text-anchor="middle" fill="#111" stroke="#111" stroke-width="0.15">(P=0.14)</text>
<text transform="translate(219.20,670.00)" font-size="10.0" text-anchor="middle" fill="#111" stroke="#111" stroke-width="0.2">SMZL</text>
<text transform="translate(221.50,683.30)" font-size="8.7" text-anchor="middle" fill="#111" stroke="#111" stroke-width="0.15">(n=4)</text>
<text transform="translate(222.40,692.50)" font-size="9.0" text-anchor="middle" fill="#111" stroke="#111" stroke-width="0.15">(P=0.18)</text>
<text transform="translate(262.70,670.00)" font-size="10.0" text-anchor="middle" fill="#111" stroke="#111" stroke-width="0.2">ND B cell</text>
<text transform="translate(256.30,683.60)" font-size="8.7" text-anchor="middle" fill="#111" stroke="#111" stroke-width="0.15">(n=8)</text>
<circle cx="79.5" cy="542.4" r="2.75" fill="#1e1e1e"/>
<circle cx="87.2" cy="555.6" r="2.75" fill="#1e1e1e"/>
<circle cx="72.2" cy="560.4" r="2.75" fill="#1e1e1e"/>
<circle cx="79.5" cy="562.7" r="2.75" fill="#1e1e1e"/>
<circle cx="79.5" cy="577" r="2.75" fill="#1e1e1e"/>
<circle cx="72.8" cy="582.8" r="2.75" fill="#1e1e1e"/>
<circle cx="76" cy="585.1" r="2.75" fill="#1e1e1e"/>
<circle cx="83.7" cy="583.8" r="2.75" fill="#1e1e1e"/>
<circle cx="86.9" cy="581.9" r="2.75" fill="#1e1e1e"/>
<circle cx="79.5" cy="590.3" r="2.75" fill="#1e1e1e"/>
<circle cx="79.5" cy="609.5" r="2.75" fill="#1e1e1e"/>
<rect x="110.95" y="512.25" width="5.30" height="5.30" fill="#1e1e1e"/>
<rect x="114.75" y="527.35" width="5.30" height="5.30" fill="#1e1e1e"/>
<rect x="106.85" y="529.95" width="5.30" height="5.30" fill="#1e1e1e"/>
<rect x="110.95" y="540.15" width="5.30" height="5.30" fill="#1e1e1e"/>
<rect x="119.25" y="550.85" width="5.30" height="5.30" fill="#1e1e1e"/>
<rect x="101.95" y="554.95" width="5.30" height="5.30" fill="#1e1e1e"/>
<rect x="107.75" y="557.45" width="5.30" height="5.30" fill="#1e1e1e"/>
<rect x="113.85" y="556.85" width="5.30" height="5.30" fill="#1e1e1e"/>
<rect x="110.95" y="568.35" width="5.30" height="5.30" fill="#1e1e1e"/>
<rect x="114.75" y="575.05" width="5.30" height="5.30" fill="#1e1e1e"/>
<rect x="106.85" y="580.85" width="5.30" height="5.30" fill="#1e1e1e"/>
<rect x="103.85" y="598.75" width="5.30" height="5.30" fill="#1e1e1e"/>
<rect x="107.75" y="599.35" width="5.30" height="5.30" fill="#1e1e1e"/>
<rect x="110.95" y="603.25" width="5.30" height="5.30" fill="#1e1e1e"/>
<rect x="114.75" y="599.15" width="5.30" height="5.30" fill="#1e1e1e"/>
<rect x="118.65" y="598.55" width="5.30" height="5.30" fill="#1e1e1e"/>
<rect x="110.95" y="636.55" width="5.30" height="5.30" fill="#1e1e1e"/>
<path d="M143.50,523.70 L146.40,528.80 L140.60,528.80 Z" fill="#1e1e1e"/>
<path d="M151.60,530.10 L154.50,535.20 L148.70,535.20 Z" fill="#1e1e1e"/>
<path d="M151.60,543.10 L154.50,548.20 L148.70,548.20 Z" fill="#1e1e1e"/>
<path d="M143.50,551.10 L146.40,556.20 L140.60,556.20 Z" fill="#1e1e1e"/>
<path d="M143.50,562.20 L146.40,567.30 L140.60,567.30 Z" fill="#1e1e1e"/>
<path d="M151.60,562.20 L154.50,567.30 L148.70,567.30 Z" fill="#1e1e1e"/>
<path d="M156.30,565.40 L159.20,570.50 L153.40,570.50 Z" fill="#1e1e1e"/>
<path d="M139.00,571.20 L141.90,576.30 L136.10,576.30 Z" fill="#1e1e1e"/>
<path d="M144.80,571.20 L147.70,576.30 L141.90,576.30 Z" fill="#1e1e1e"/>
<path d="M150.30,571.20 L153.20,576.30 L147.40,576.30 Z" fill="#1e1e1e"/>
<path d="M138.70,579.60 L141.60,584.70 L135.80,584.70 Z" fill="#1e1e1e"/>
<path d="M156.30,581.50 L159.20,586.60 L153.40,586.60 Z" fill="#1e1e1e"/>
<path d="M144.80,585.40 L147.70,590.50 L141.90,590.50 Z" fill="#1e1e1e"/>
<path d="M150.30,586.00 L153.20,591.10 L147.40,591.10 Z" fill="#1e1e1e"/>
<path d="M140.30,594.40 L143.20,599.50 L137.40,599.50 Z" fill="#1e1e1e"/>
<path d="M147.40,600.10 L150.30,605.20 L144.50,605.20 Z" fill="#1e1e1e"/>
<path d="M154.70,600.10 L157.60,605.20 L151.80,605.20 Z" fill="#1e1e1e"/>
<path d="M178.60,507.10 L184.40,507.10 L181.50,512.20 Z" fill="#1e1e1e"/>
<path d="M174.30,535.10 L180.10,535.10 L177.20,540.20 Z" fill="#1e1e1e"/>
<path d="M182.70,535.10 L188.50,535.10 L185.60,540.20 Z" fill="#1e1e1e"/>
<path d="M174.30,553.10 L180.10,553.10 L177.20,558.20 Z" fill="#1e1e1e"/>
<path d="M182.70,553.10 L188.50,553.10 L185.60,558.20 Z" fill="#1e1e1e"/>
<path d="M182.70,563.40 L188.50,563.40 L185.60,568.50 Z" fill="#1e1e1e"/>
<path d="M174.30,567.20 L180.10,567.20 L177.20,572.30 Z" fill="#1e1e1e"/>
<path d="M178.60,579.00 L184.40,579.00 L181.50,584.10 Z" fill="#1e1e1e"/>
<path d="M178.60,593.50 L184.40,593.50 L181.50,598.60 Z" fill="#1e1e1e"/>
<path d="M174.30,599.90 L180.10,599.90 L177.20,605.00 Z" fill="#1e1e1e"/>
<path d="M182.70,605.10 L188.50,605.10 L185.60,610.20 Z" fill="#1e1e1e"/>
<path d="M171.10,607.40 L176.90,607.40 L174.00,612.50 Z" fill="#1e1e1e"/>
<path d="M185.90,611.50 L191.70,611.50 L188.80,616.60 Z" fill="#1e1e1e"/>
<path d="M178.60,615.10 L184.40,615.10 L181.50,620.20 Z" fill="#1e1e1e"/>
<path d="M215.10,550.50 L218.40,553.80 L215.10,557.10 L211.80,553.80 Z" fill="#1e1e1e"/>
<path d="M215.10,573.10 L218.40,576.40 L215.10,579.70 L211.80,576.40 Z" fill="#1e1e1e"/>
<path d="M215.10,587.70 L218.40,591.00 L215.10,594.30 L211.80,591.00 Z" fill="#1e1e1e"/>
<path d="M215.10,635.60 L218.40,638.90 L215.10,642.20 L211.80,638.90 Z" fill="#1e1e1e"/>
<circle cx="241.8" cy="582.8" r="2.55" fill="white" stroke="#1e1e1e" stroke-width="1.5"/>
<circle cx="243.2" cy="583.6" r="2.55" fill="white" stroke="#1e1e1e" stroke-width="1.5"/>
<circle cx="244.5" cy="584.2" r="2.55" fill="white" stroke="#1e1e1e" stroke-width="1.5"/>
<circle cx="246" cy="585.2" r="2.55" fill="white" stroke="#1e1e1e" stroke-width="1.5"/>
<circle cx="247.2" cy="586" r="2.55" fill="white" stroke="#1e1e1e" stroke-width="1.5"/>
<circle cx="248.5" cy="587.5" r="2.55" fill="white" stroke="#1e1e1e" stroke-width="1.5"/>
<circle cx="249.3" cy="588.8" r="2.55" fill="white" stroke="#1e1e1e" stroke-width="1.5"/>
<circle cx="251.8" cy="590" r="2.55" fill="white" stroke="#1e1e1e" stroke-width="1.5"/>
<circle cx="250.5" cy="589.5" r="2.55" fill="white" stroke="#1e1e1e" stroke-width="1.5"/>
<circle cx="253" cy="588" r="2.55" fill="white" stroke="#1e1e1e" stroke-width="1.5"/>
<circle cx="254" cy="586.5" r="2.55" fill="white" stroke="#1e1e1e" stroke-width="1.5"/>
<circle cx="254.8" cy="585.2" r="2.55" fill="white" stroke="#1e1e1e" stroke-width="1.5"/>
<circle cx="255.8" cy="583.6" r="2.55" fill="white" stroke="#1e1e1e" stroke-width="1.5"/>
<circle cx="256.6" cy="584.2" r="2.55" fill="white" stroke="#1e1e1e" stroke-width="1.5"/>
<circle cx="257" cy="583.3" r="2.55" fill="white" stroke="#1e1e1e" stroke-width="1.5"/>
<circle cx="258" cy="583" r="2.55" fill="white" stroke="#1e1e1e" stroke-width="1.5"/>
<circle cx="258.4" cy="584.5" r="2.55" fill="white" stroke="#1e1e1e" stroke-width="1.5"/>
<circle cx="245.2" cy="595" r="2.55" fill="white" stroke="#1e1e1e" stroke-width="1.5"/>
<circle cx="253.4" cy="599.2" r="2.55" fill="white" stroke="#1e1e1e" stroke-width="1.5"/>
<circle cx="253.4" cy="606.5" r="2.55" fill="white" stroke="#1e1e1e" stroke-width="1.5"/>
<circle cx="245.2" cy="613.1" r="2.55" fill="white" stroke="#1e1e1e" stroke-width="1.5"/>
<line x1="69.00" y1="560.40" x2="90.80" y2="560.40" stroke="#111" stroke-width="1.4"/>
<line x1="79.50" y1="555.60" x2="79.50" y2="569.10" stroke="#111" stroke-width="1.4"/>
<line x1="74.10" y1="555.60" x2="84.90" y2="555.60" stroke="#111" stroke-width="1.4"/>
<line x1="74.10" y1="569.10" x2="84.90" y2="569.10" stroke="#111" stroke-width="1.4"/>
<line x1="102.70" y1="537.70" x2="124.70" y2="537.70" stroke="#111" stroke-width="1.4"/>
<line x1="113.60" y1="531.50" x2="113.60" y2="548.60" stroke="#111" stroke-width="1.4"/>
<line x1="108.50" y1="531.50" x2="118.70" y2="531.50" stroke="#111" stroke-width="1.4"/>
<line x1="108.50" y1="548.60" x2="118.70" y2="548.60" stroke="#111" stroke-width="1.4"/>
<line x1="136.00" y1="547.10" x2="158.80" y2="547.10" stroke="#111" stroke-width="1.4"/>
<line x1="147.70" y1="542.50" x2="147.70" y2="556.10" stroke="#111" stroke-width="1.4"/>
<line x1="142.30" y1="542.50" x2="153.10" y2="542.50" stroke="#111" stroke-width="1.4"/>
<line x1="142.30" y1="556.10" x2="153.10" y2="556.10" stroke="#111" stroke-width="1.4"/>
<line x1="170.10" y1="533.00" x2="192.60" y2="533.00" stroke="#111" stroke-width="1.4"/>
<line x1="181.50" y1="527.20" x2="181.50" y2="552.70" stroke="#111" stroke-width="1.4"/>
<line x1="176.10" y1="527.20" x2="186.90" y2="527.20" stroke="#111" stroke-width="1.4"/>
<line x1="176.10" y1="552.70" x2="186.90" y2="552.70" stroke="#111" stroke-width="1.4"/>
<line x1="204.10" y1="565.10" x2="226.70" y2="565.10" stroke="#111" stroke-width="1.4"/>
<line x1="215.10" y1="559.60" x2="215.10" y2="585.10" stroke="#111" stroke-width="1.4"/>
<line x1="209.70" y1="559.60" x2="220.50" y2="559.60" stroke="#111" stroke-width="1.4"/>
<line x1="209.70" y1="585.10" x2="220.50" y2="585.10" stroke="#111" stroke-width="1.4"/>
<line x1="238.10" y1="588.70" x2="260.50" y2="588.70" stroke="#111" stroke-width="1.4"/>
<line x1="249.50" y1="587.20" x2="249.50" y2="590.20" stroke="#111" stroke-width="1.4"/>
<line x1="246.50" y1="587.20" x2="252.50" y2="587.20" stroke="#111" stroke-width="1.4"/>
<line x1="246.50" y1="590.20" x2="252.50" y2="590.20" stroke="#111" stroke-width="1.4"/>
<text transform="translate(285.60,439.90)" font-size="15.2" text-anchor="start" font-weight="bold" fill="#111">D</text>
<text transform="translate(289.20,553.20) rotate(-90)" font-size="12.3" text-anchor="middle" font-weight="bold" fill="#111">Relative expression (log<tspan font-size="8" dy="2.5">2</tspan><tspan dy="-2.5">)</tspan></text>
<line x1="344.50" y1="479.70" x2="344.50" y2="610.50" stroke="#999" stroke-width="1"/>
<line x1="366.50" y1="479.70" x2="366.50" y2="610.50" stroke="#999" stroke-width="1"/>
<line x1="386.50" y1="479.70" x2="386.50" y2="610.50" stroke="#999" stroke-width="1"/>
<line x1="407.50" y1="479.70" x2="407.50" y2="610.50" stroke="#999" stroke-width="1"/>
<line x1="428.50" y1="479.70" x2="428.50" y2="610.50" stroke="#999" stroke-width="1"/>
<line x1="450.50" y1="479.70" x2="450.50" y2="610.50" stroke="#999" stroke-width="1"/>
<line x1="471.50" y1="479.70" x2="471.50" y2="610.50" stroke="#999" stroke-width="1"/>
<line x1="492.50" y1="479.70" x2="492.50" y2="610.50" stroke="#999" stroke-width="1"/>
<line x1="322.20" y1="479.50" x2="513.50" y2="479.50" stroke="#999" stroke-width="1"/>
<line x1="322.50" y1="479.70" x2="322.50" y2="610.50" stroke="#777" stroke-width="1"/>
<line x1="513.50" y1="479.70" x2="513.50" y2="610.50" stroke="#999" stroke-width="1"/>
<line x1="321.70" y1="610.50" x2="514.00" y2="610.50" stroke="#444" stroke-width="1.2"/>
<line x1="322.20" y1="583.50" x2="517.50" y2="583.50" stroke="#333" stroke-width="1"/>
<line x1="317.00" y1="479.50" x2="322.20" y2="479.50" stroke="#aaa" stroke-width="1"/>
<line x1="513.50" y1="479.50" x2="517.70" y2="479.50" stroke="#d4d4d4" stroke-width="1"/>
<text transform="translate(313.90,481.65) scale(0.97,1)" font-size="6.3" text-anchor="end" font-weight="bold" fill="#333" stroke="#333" stroke-width="0.2" style="font-family:'Liberation Mono', monospace">7.5</text>
<line x1="317.00" y1="486.50" x2="322.20" y2="486.50" stroke="#aaa" stroke-width="1"/>
<line x1="513.50" y1="486.50" x2="517.70" y2="486.50" stroke="#d4d4d4" stroke-width="1"/>
<text transform="translate(313.90,488.58) scale(0.97,1)" font-size="6.3" text-anchor="end" font-weight="bold" fill="#333" stroke="#333" stroke-width="0.2" style="font-family:'Liberation Mono', monospace">7.0</text>
<line x1="317.00" y1="493.50" x2="322.20" y2="493.50" stroke="#aaa" stroke-width="1"/>
<line x1="513.50" y1="493.50" x2="517.70" y2="493.50" stroke="#d4d4d4" stroke-width="1"/>
<text transform="translate(313.90,495.51) scale(0.97,1)" font-size="6.3" text-anchor="end" font-weight="bold" fill="#333" stroke="#333" stroke-width="0.2" style="font-family:'Liberation Mono', monospace">6.5</text>
<line x1="317.00" y1="500.50" x2="322.20" y2="500.50" stroke="#aaa" stroke-width="1"/>
<line x1="513.50" y1="500.50" x2="517.70" y2="500.50" stroke="#d4d4d4" stroke-width="1"/>
<text transform="translate(313.90,502.44) scale(0.97,1)" font-size="6.3" text-anchor="end" font-weight="bold" fill="#333" stroke="#333" stroke-width="0.2" style="font-family:'Liberation Mono', monospace">6.0</text>
<line x1="317.00" y1="507.50" x2="322.20" y2="507.50" stroke="#aaa" stroke-width="1"/>
<line x1="513.50" y1="507.50" x2="517.70" y2="507.50" stroke="#d4d4d4" stroke-width="1"/>
<text transform="translate(313.90,509.37) scale(0.97,1)" font-size="6.3" text-anchor="end" font-weight="bold" fill="#333" stroke="#333" stroke-width="0.2" style="font-family:'Liberation Mono', monospace">5.5</text>
<line x1="317.00" y1="514.50" x2="322.20" y2="514.50" stroke="#aaa" stroke-width="1"/>
<line x1="513.50" y1="514.50" x2="517.70" y2="514.50" stroke="#d4d4d4" stroke-width="1"/>
<text transform="translate(313.90,516.30) scale(0.97,1)" font-size="6.3" text-anchor="end" font-weight="bold" fill="#333" stroke="#333" stroke-width="0.2" style="font-family:'Liberation Mono', monospace">5.0</text>
<line x1="317.00" y1="521.50" x2="322.20" y2="521.50" stroke="#aaa" stroke-width="1"/>
<line x1="513.50" y1="521.50" x2="517.70" y2="521.50" stroke="#d4d4d4" stroke-width="1"/>
<text transform="translate(313.90,523.23) scale(0.97,1)" font-size="6.3" text-anchor="end" font-weight="bold" fill="#333" stroke="#333" stroke-width="0.2" style="font-family:'Liberation Mono', monospace">4.5</text>
<line x1="317.00" y1="528.50" x2="322.20" y2="528.50" stroke="#aaa" stroke-width="1"/>
<line x1="513.50" y1="528.50" x2="517.70" y2="528.50" stroke="#d4d4d4" stroke-width="1"/>
<text transform="translate(313.90,530.16) scale(0.97,1)" font-size="6.3" text-anchor="end" font-weight="bold" fill="#333" stroke="#333" stroke-width="0.2" style="font-family:'Liberation Mono', monospace">4.0</text>
<line x1="317.00" y1="535.50" x2="322.20" y2="535.50" stroke="#aaa" stroke-width="1"/>
<line x1="513.50" y1="535.50" x2="517.70" y2="535.50" stroke="#d4d4d4" stroke-width="1"/>
<text transform="translate(313.90,537.09) scale(0.97,1)" font-size="6.3" text-anchor="end" font-weight="bold" fill="#333" stroke="#333" stroke-width="0.2" style="font-family:'Liberation Mono', monospace">3.5</text>
<line x1="317.00" y1="542.50" x2="322.20" y2="542.50" stroke="#aaa" stroke-width="1"/>
<line x1="513.50" y1="542.50" x2="517.70" y2="542.50" stroke="#d4d4d4" stroke-width="1"/>
<text transform="translate(313.90,544.02) scale(0.97,1)" font-size="6.3" text-anchor="end" font-weight="bold" fill="#333" stroke="#333" stroke-width="0.2" style="font-family:'Liberation Mono', monospace">3.0</text>
<line x1="317.00" y1="548.50" x2="322.20" y2="548.50" stroke="#aaa" stroke-width="1"/>
<line x1="513.50" y1="548.50" x2="517.70" y2="548.50" stroke="#d4d4d4" stroke-width="1"/>
<text transform="translate(313.90,550.95) scale(0.97,1)" font-size="6.3" text-anchor="end" font-weight="bold" fill="#333" stroke="#333" stroke-width="0.2" style="font-family:'Liberation Mono', monospace">2.5</text>
<line x1="317.00" y1="555.50" x2="322.20" y2="555.50" stroke="#aaa" stroke-width="1"/>
<line x1="513.50" y1="555.50" x2="517.70" y2="555.50" stroke="#d4d4d4" stroke-width="1"/>
<text transform="translate(313.90,557.88) scale(0.97,1)" font-size="6.3" text-anchor="end" font-weight="bold" fill="#333" stroke="#333" stroke-width="0.2" style="font-family:'Liberation Mono', monospace">2.0</text>
<line x1="317.00" y1="562.50" x2="322.20" y2="562.50" stroke="#aaa" stroke-width="1"/>
<line x1="513.50" y1="562.50" x2="517.70" y2="562.50" stroke="#d4d4d4" stroke-width="1"/>
<text transform="translate(313.90,564.81) scale(0.97,1)" font-size="6.3" text-anchor="end" font-weight="bold" fill="#333" stroke="#333" stroke-width="0.2" style="font-family:'Liberation Mono', monospace">1.5</text>
<line x1="317.00" y1="569.50" x2="322.20" y2="569.50" stroke="#aaa" stroke-width="1"/>
<line x1="513.50" y1="569.50" x2="517.70" y2="569.50" stroke="#d4d4d4" stroke-width="1"/>
<text transform="translate(313.90,571.74) scale(0.97,1)" font-size="6.3" text-anchor="end" font-weight="bold" fill="#333" stroke="#333" stroke-width="0.2" style="font-family:'Liberation Mono', monospace">1.0</text>
<line x1="317.00" y1="576.50" x2="322.20" y2="576.50" stroke="#aaa" stroke-width="1"/>
<line x1="513.50" y1="576.50" x2="517.70" y2="576.50" stroke="#d4d4d4" stroke-width="1"/>
<text transform="translate(313.90,578.67) scale(0.97,1)" font-size="6.3" text-anchor="end" font-weight="bold" fill="#333" stroke="#333" stroke-width="0.2" style="font-family:'Liberation Mono', monospace">0.5</text>
<line x1="317.00" y1="583.50" x2="322.20" y2="583.50" stroke="#aaa" stroke-width="1"/>
<line x1="513.50" y1="583.50" x2="517.70" y2="583.50" stroke="#d4d4d4" stroke-width="1"/>
<text transform="translate(313.90,585.60) scale(0.97,1)" font-size="6.3" text-anchor="end" font-weight="bold" fill="#333" stroke="#333" stroke-width="0.2" style="font-family:'Liberation Mono', monospace">0.0</text>
<line x1="317.00" y1="590.50" x2="322.20" y2="590.50" stroke="#aaa" stroke-width="1"/>
<line x1="513.50" y1="590.50" x2="517.70" y2="590.50" stroke="#d4d4d4" stroke-width="1"/>
<text transform="translate(313.90,592.53) scale(0.97,1)" font-size="6.3" text-anchor="end" font-weight="bold" fill="#333" stroke="#333" stroke-width="0.2" style="font-family:'Liberation Mono', monospace">-0.5</text>
<line x1="317.00" y1="597.50" x2="322.20" y2="597.50" stroke="#aaa" stroke-width="1"/>
<line x1="513.50" y1="597.50" x2="517.70" y2="597.50" stroke="#d4d4d4" stroke-width="1"/>
<text transform="translate(313.90,599.46) scale(0.97,1)" font-size="6.3" text-anchor="end" font-weight="bold" fill="#333" stroke="#333" stroke-width="0.2" style="font-family:'Liberation Mono', monospace">-1.0</text>
<line x1="317.00" y1="604.50" x2="322.20" y2="604.50" stroke="#aaa" stroke-width="1"/>
<line x1="513.50" y1="604.50" x2="517.70" y2="604.50" stroke="#d4d4d4" stroke-width="1"/>
<text transform="translate(313.90,606.39) scale(0.97,1)" font-size="6.3" text-anchor="end" font-weight="bold" fill="#333" stroke="#333" stroke-width="0.2" style="font-family:'Liberation Mono', monospace">-1.5</text>
<line x1="317.00" y1="611.50" x2="322.20" y2="611.50" stroke="#aaa" stroke-width="1"/>
<line x1="513.50" y1="611.50" x2="517.70" y2="611.50" stroke="#d4d4d4" stroke-width="1"/>
<text transform="translate(313.90,613.32) scale(0.97,1)" font-size="6.3" text-anchor="end" font-weight="bold" fill="#333" stroke="#333" stroke-width="0.2" style="font-family:'Liberation Mono', monospace">-2.0</text>
<line x1="332.50" y1="492.40" x2="332.50" y2="497.20" stroke="#444" stroke-width="1"/>
<line x1="332.50" y1="509.20" x2="332.50" y2="520.30" stroke="#444" stroke-width="1"/>
<rect x="327.00" y="497.20" width="11.60" height="12.00" fill="#6d6d6d" stroke="#2a2a2a" stroke-width="0.9"/>
<line x1="327.00" y1="503.50" x2="338.60" y2="503.50" stroke="#333" stroke-width="0.9"/>
<line x1="327.00" y1="492.50" x2="338.60" y2="492.50" stroke="#444" stroke-width="1"/>
<line x1="327.00" y1="520.50" x2="338.60" y2="520.50" stroke="#444" stroke-width="1"/>
<circle cx="332.80" cy="487.5" r="1.3" fill="#111"/>
<circle cx="332.80" cy="579.4" r="1.3" fill="#111"/>
<line x1="355.50" y1="503.50" x2="355.50" y2="513.80" stroke="#444" stroke-width="1"/>
<rect x="349.40" y="494.70" width="11.60" height="8.80" fill="#6d6d6d" stroke="#2a2a2a" stroke-width="0.9"/>
<line x1="349.40" y1="498.80" x2="361.00" y2="498.80" stroke="#333" stroke-width="0.9"/>
<rect x="353.70" y="493.70" width="3.00" height="2.00" fill="#111"/>
<line x1="349.40" y1="513.50" x2="361.00" y2="513.50" stroke="#444" stroke-width="1"/>
<circle cx="355.20" cy="489.6" r="1.3" fill="#111"/>
<circle cx="355.20" cy="521.9" r="1.3" fill="#111"/>
<line x1="376.50" y1="487.30" x2="376.50" y2="493.10" stroke="#444" stroke-width="1"/>
<line x1="376.50" y1="543.40" x2="376.50" y2="561.60" stroke="#444" stroke-width="1"/>
<rect x="370.80" y="493.10" width="11.60" height="50.30" fill="#6d6d6d" stroke="#2a2a2a" stroke-width="0.9"/>
<line x1="370.80" y1="512.20" x2="382.40" y2="512.20" stroke="#333" stroke-width="0.9"/>
<line x1="370.80" y1="487.50" x2="382.40" y2="487.50" stroke="#444" stroke-width="1"/>
<line x1="370.80" y1="561.50" x2="382.40" y2="561.50" stroke="#444" stroke-width="1"/>
<circle cx="376.60" cy="484.8" r="1.3" fill="#111"/>
<circle cx="376.60" cy="575.7" r="1.3" fill="#111"/>
<line x1="396.50" y1="493.30" x2="396.50" y2="493.50" stroke="#444" stroke-width="1"/>
<line x1="396.50" y1="501.60" x2="396.50" y2="529.50" stroke="#444" stroke-width="1"/>
<rect x="390.30" y="493.50" width="11.60" height="8.10" fill="#6d6d6d" stroke="#2a2a2a" stroke-width="0.9"/>
<line x1="390.30" y1="497.20" x2="401.90" y2="497.20" stroke="#333" stroke-width="0.9"/>
<rect x="394.60" y="492.30" width="3.00" height="2.00" fill="#111"/>
<rect x="394.60" y="528.50" width="3.00" height="2.00" fill="#111"/>
<line x1="418.50" y1="489.20" x2="418.50" y2="509.20" stroke="#444" stroke-width="1"/>
<line x1="418.50" y1="521.50" x2="418.50" y2="535.30" stroke="#444" stroke-width="1"/>
<rect x="412.20" y="509.20" width="11.60" height="12.30" fill="#6d6d6d" stroke="#2a2a2a" stroke-width="0.9"/>
<line x1="412.20" y1="513.40" x2="423.80" y2="513.40" stroke="#333" stroke-width="0.9"/>
<line x1="412.20" y1="489.50" x2="423.80" y2="489.50" stroke="#444" stroke-width="1"/>
<rect x="416.50" y="488.20" width="3.00" height="2.00" fill="#111"/>
<line x1="412.20" y1="535.50" x2="423.80" y2="535.50" stroke="#444" stroke-width="1"/>
<circle cx="418.00" cy="542.2" r="1.3" fill="#111"/>
<rect x="433.10" y="524.90" width="11.60" height="64.00" fill="#6d6d6d" stroke="#2a2a2a" stroke-width="0.9"/>
<line x1="433.10" y1="587.30" x2="444.70" y2="587.30" stroke="#333" stroke-width="0.9"/>
<rect x="437.40" y="523.90" width="3.00" height="2.00" fill="#111"/>
<rect x="437.40" y="587.90" width="3.00" height="2.00" fill="#111"/>
<line x1="460.50" y1="496.10" x2="460.50" y2="497.70" stroke="#444" stroke-width="1"/>
<line x1="460.50" y1="568.80" x2="460.50" y2="590.30" stroke="#444" stroke-width="1"/>
<rect x="454.50" y="497.70" width="11.60" height="71.10" fill="#6d6d6d" stroke="#2a2a2a" stroke-width="0.9"/>
<line x1="454.50" y1="506.90" x2="466.10" y2="506.90" stroke="#333" stroke-width="0.9"/>
<rect x="458.80" y="495.10" width="3.00" height="2.00" fill="#111"/>
<line x1="454.50" y1="590.50" x2="466.10" y2="590.50" stroke="#444" stroke-width="1"/>
<line x1="481.50" y1="600.50" x2="481.50" y2="607.40" stroke="#444" stroke-width="1"/>
<rect x="475.80" y="579.20" width="11.60" height="21.30" fill="#6d6d6d" stroke="#2a2a2a" stroke-width="0.9"/>
<line x1="475.80" y1="595.40" x2="487.40" y2="595.40" stroke="#333" stroke-width="0.9"/>
<rect x="480.10" y="578.20" width="3.00" height="2.00" fill="#111"/>
<line x1="475.80" y1="607.50" x2="487.40" y2="607.50" stroke="#444" stroke-width="1"/>
<rect x="480.10" y="606.40" width="3.00" height="2.00" fill="#111"/>
<line x1="503.50" y1="557.30" x2="503.50" y2="571.20" stroke="#aaa" stroke-width="1"/>
<rect x="498.10" y="536.50" width="11.60" height="20.80" fill="#6d6d6d" stroke="#2a2a2a" stroke-width="0.9"/>
<line x1="498.10" y1="541.10" x2="509.70" y2="541.10" stroke="#333" stroke-width="0.9"/>
<rect x="502.40" y="535.50" width="3.00" height="2.00" fill="#111"/>
<line x1="498.10" y1="571.50" x2="509.70" y2="571.50" stroke="#aaa" stroke-width="1"/>
<text transform="translate(336.60,618.00) rotate(-52)" font-size="12.2" text-anchor="end" fill="#111" stroke="#111" stroke-width="0.25">BL (127)</text>
<text transform="translate(359.50,622.60) rotate(-52)" font-size="12.2" text-anchor="end" fill="#111" stroke="#111" stroke-width="0.25">CLL (34)</text>
<text transform="translate(383.50,623.00) rotate(-52)" font-size="12.2" text-anchor="end" fill="#111" stroke="#111" stroke-width="0.25">DLBCL (40)</text>
<text transform="translate(406.90,622.40) rotate(-52)" font-size="12.2" text-anchor="end" fill="#111" stroke="#111" stroke-width="0.25">FL (6)</text>
<text transform="translate(430.20,623.40) rotate(-52)" font-size="12.2" text-anchor="end" fill="#111" stroke="#111" stroke-width="0.25">HCL (16)</text>
<text transform="translate(451.80,624.40) rotate(-52)" font-size="12.2" text-anchor="end" fill="#111" stroke="#111" stroke-width="0.25">HL (4)</text>
<text transform="translate(472.10,623.60) rotate(-52)" font-size="12.2" text-anchor="end" fill="#111" stroke="#111" stroke-width="0.25">MCL (8)</text>
<text transform="translate(492.90,624.20) rotate(-52)" font-size="12.2" text-anchor="end" fill="#111" stroke="#111" stroke-width="0.25">MM (4)</text>
<text transform="translate(514.40,623.40) rotate(-52)" font-size="12.2" text-anchor="end" fill="#111" stroke="#111" stroke-width="0.25">SMZL (5)</text>
</svg></body></html>
